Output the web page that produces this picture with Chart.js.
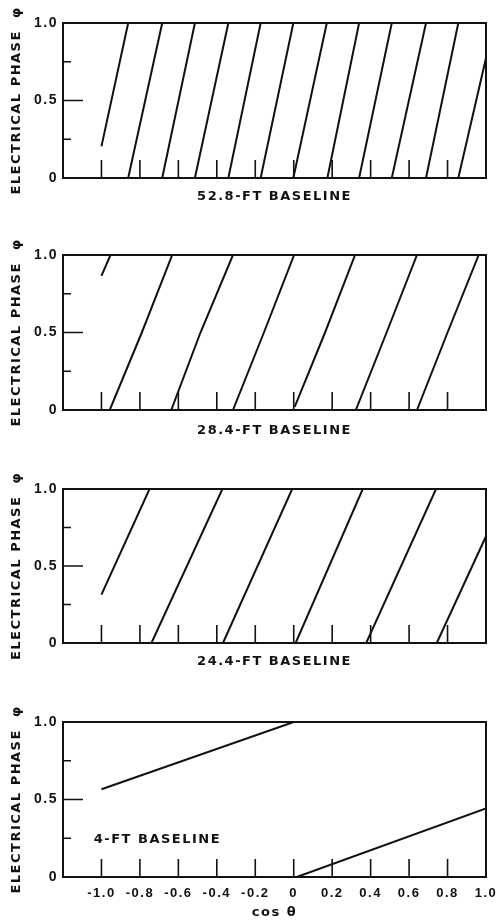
<!DOCTYPE html>
<html lang="en">
<head>
    <meta charset="UTF-8">
    <script src="https://cdn.jsdelivr.net/npm/chart.js"></script>
    <title>Electrical phase vs cos theta</title>
    <style>
        body {
            margin: 0;
            background: #fff;
        }
        .wrap {
            position: relative;
            width: 497px;
            height: 921px;
        }
        canvas {
            position: absolute;
            left: 0;
        }
    </style>
</head>
<body>
<div class="wrap">
    <canvas id="p1" width="497" height="215" style="top:0px"></canvas>
    <canvas id="p2" width="497" height="230" style="top:215px"></canvas>
    <canvas id="p3" width="497" height="235" style="top:445px"></canvas>
    <canvas id="p4" width="497" height="241" style="top:680px"></canvas>
</div>
<script>
    // tick values
    const xTicks = [-1.0, -0.8, -0.6, -0.4, -0.2, 0, 0.2, 0.4, 0.6, 0.8, 1.0];
    const yTicks = [0, 0.25, 0.5, 0.75, 1.0];
    const baselines = ['52.8-FT BASELINE', '28.4-FT BASELINE', '24.4-FT BASELINE', '4-FT BASELINE'];

    // phase branches, [cos theta, phase] pairs
    const phase528 = [
        [[-1.0, 0.204], [-0.861, 1.0]],
        [[-0.861, 0], [-0.684, 1.0]],
        [[-0.684, 0], [-0.514, 1.0]],
        [[-0.514, 0], [-0.340, 1.0]],
        [[-0.340, 0], [-0.172, 1.0]],
        [[-0.172, 0], [-0.002, 1.0]],
        [[-0.002, 0], [0.172, 1.0]],
        [[0.175, 0], [0.340, 1.0]],
        [[0.340, 0], [0.510, 1.0]],
        [[0.510, 0], [0.688, 1.0]],
        [[0.688, 0], [0.856, 1.0]],
        [[0.856, 0], [1.0, 0.774]]
    ];
    const phase284 = [
        [[-1.0, 0.865], [-0.953, 1.0]],
        [[-0.957, 0], [-0.790, 0.5], [-0.632, 1.0]],
        [[-0.637, 0], [-0.485, 0.5], [-0.316, 1.0]],
        [[-0.316, 0], [-0.155, 0.5], [0.002, 1.0]],
        [[0.005, 0.02], [0.163, 0.5], [0.319, 1.0]],
        [[0.323, 0], [0.483, 0.5], [0.641, 1.0]],
        [[0.641, 0], [0.800, 0.5], [0.962, 1.0]]
    ];
    const phase244 = [
        [[-1.0, 0.314], [-0.750, 1.0]],
        [[-0.740, 0], [-0.371, 1.0]],
        [[-0.368, 0], [-0.008, 1.0]],
        [[0.010, 0], [0.359, 1.0]],
        [[0.377, 0], [0.740, 1.0]],
        [[0.744, 0], [1.0, 0.693]]
    ];
    const phase4 = [
        [[-1.0, 0.566], [0.0, 1.0]],
        [[0.016, 0], [1.0, 0.443]]
    ];

    const ink = '#111';

    function toPoints(branches) {
        const pts = [];
        branches.forEach((b, i) => {
            if (i > 0) pts.push({x: b[0][0], y: null});
            b.forEach(p => pts.push({x: p[0], y: p[1]}));
        });
        return pts;
    }

    // box, inward tick marks, and an optional note inside the plot
    const framePlugin = {
        id: 'frame',
        beforeDraw(chart) {
            chart.ctx.letterSpacing = '1.5px';
        },
        afterDatasetsDraw(chart, args, opts) {
            const {ctx, chartArea: a, scales: {x, y}} = chart;
            ctx.save();
            ctx.strokeStyle = ink;
            ctx.lineWidth = 1.6;
            ctx.beginPath();
            xTicks.forEach(v => {
                if (v >= 1) return;
                const px = x.getPixelForValue(v);
                ctx.moveTo(px, a.bottom);
                ctx.lineTo(px, a.bottom - 18);
            });
            yTicks.forEach(v => {
                if (v <= 0 || v >= 1) return;
                const py = y.getPixelForValue(v);
                ctx.moveTo(a.left, py);
                ctx.lineTo(a.left + (v === 0.5 ? 20 : 8), py);
            });
            ctx.stroke();
            ctx.lineWidth = 2;
            ctx.strokeRect(a.left, a.top, a.width, a.height);
            if (opts.note) {
                ctx.fillStyle = ink;
                ctx.font = 'bold 13px "DejaVu Sans"';
                ctx.textAlign = 'left';
                ctx.textBaseline = 'middle';
                ctx.fillText(opts.note, x.getPixelForValue(-1.04), y.getPixelForValue(0.24));
            }
            ctx.restore();
        }
    };

    function makePanel(divID, branches, cfg) {
        const ctx = document.getElementById(divID);
        new Chart(ctx, {
            type: 'line',
            data: {
                datasets: [{
                    data: toPoints(branches),
                    borderColor: ink,
                    borderWidth: 2,
                    pointRadius: 0,
                    tension: 0,
                    spanGaps: false
                }]
            },
            options: {
                responsive: false,
                animation: false,
                events: [],
                layout: {
                    padding: {left: 0, right: 11, top: cfg.top, bottom: 0}
                },
                plugins: {
                    legend: {display: false},
                    tooltip: {enabled: false},
                    frame: {note: cfg.note}
                },
                scales: {
                    x: {
                        type: 'linear',
                        min: -1.2,
                        max: 1.0,
                        afterBuildTicks: s => { s.ticks = xTicks.map(v => ({value: v})); },
                        afterFit: s => {
                            s.height = cfg.xHeight;
                            s.paddingLeft = 0;
                            s.paddingRight = 0;
                        },
                        grid: {display: false, drawTicks: false},
                        border: {display: false},
                        ticks: {
                            display: cfg.showX,
                            padding: 9,
                            color: ink,
                            maxRotation: 0,
                            autoSkip: false,
                            font: {family: '"Liberation Sans"', size: 13, weight: 'bold'},
                            callback: v => v === 0 ? '0' : v.toFixed(1)
                        },
                        title: {
                            display: true,
                            text: cfg.xTitle,
                            color: ink,
                            padding: {top: 0, bottom: cfg.titlePad},
                            font: {family: '"DejaVu Sans"', size: 13, weight: 'bold'}
                        }
                    },
                    y: {
                        min: 0,
                        max: 1,
                        afterBuildTicks: s => { s.ticks = yTicks.map(v => ({value: v})); },
                        afterFit: s => {
                            s.width = 63;
                            s.paddingTop = 0;
                            s.paddingBottom = 0;
                        },
                        grid: {display: false, drawTicks: false},
                        border: {display: false},
                        ticks: {
                            padding: 5,
                            color: ink,
                            font: {family: '"Liberation Sans"', size: 14, weight: 'bold'},
                            callback: v => v === 0 ? '0' : (v === 0.5 || v === 1 ? v.toFixed(1) : '')
                        },
                        title: {
                            display: true,
                            text: 'ELECTRICAL PHASE  \u03c6',
                            color: ink,
                            padding: {top: 9, bottom: 0},
                            font: {family: '"DejaVu Sans"', size: 13, weight: 'bold'}
                        }
                    }
                }
            },
            plugins: [framePlugin]
        });
    }

    makePanel('p1', phase528, {top: 23, xHeight: 37, titlePad: 11, showX: false, xTitle: baselines[0]});
    makePanel('p2', phase284, {top: 40, xHeight: 35, titlePad: 7, showX: false, xTitle: baselines[1]});
    makePanel('p3', phase244, {top: 44, xHeight: 37, titlePad: 11, showX: false, xTitle: baselines[2]});
    makePanel('p4', phase4, {top: 42, xHeight: 44, titlePad: 1, showX: true, xTitle: 'cos \u03b8', note: baselines[3]});
</script>
</body>
</html>
